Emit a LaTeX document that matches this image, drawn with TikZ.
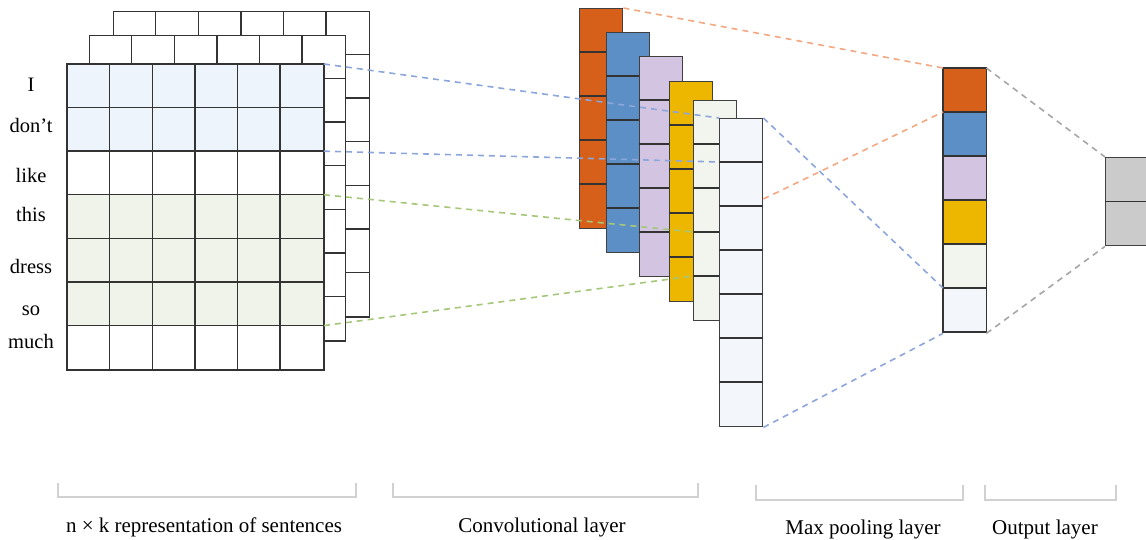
\documentclass[tikz,border=0pt]{standalone}
\usepackage{fontspec}
\setmainfont{Liberation Serif}
\usetikzlibrary{positioning}

\definecolor{convorange}{HTML}{D6601A}
\definecolor{convblue}{HTML}{5B8FC5}
\definecolor{convlav}{HTML}{D3C5E1}
\definecolor{convyellow}{HTML}{EDB700}
\definecolor{convgreen}{HTML}{F2F5EE}
\definecolor{convpale}{HTML}{F3F7FC}
\definecolor{rowblue}{HTML}{EEF4FC}
\definecolor{rowgreen}{HTML}{EFF3EA}
\definecolor{outgray}{HTML}{CBCBCB}
\definecolor{dashblue}{HTML}{8CA6DC}
\definecolor{dashgreen}{HTML}{A5C77A}
\definecolor{dashorange}{HTML}{F3A882}
\definecolor{dashgray}{HTML}{A6A6A6}

\tikzset{
  sheet/.style={draw=black!80, fill=white, line width=1.4pt, anchor=north west, inner sep=0pt,
    minimum width=255.6pt, minimum height=305.2pt},
  column/.style={draw=black!75, line width=1.4pt, anchor=north west, inner sep=0pt, minimum width=43pt},
  cellline/.style={draw=black!80, line width=1.4pt},
  link/.style={dash pattern=on 6pt off 5pt, line width=1.6pt},
  bracket/.style={draw=black!18, line width=1.4pt},
  wordtext/.style={font=\fontsize{20.5}{20.5}\selectfont, anchor=base},
  layertext/.style={font=\fontsize{21}{21}\selectfont, anchor=base}
}

\begin{document}
\begin{tikzpicture}[x=1pt,y=-1pt]
\useasboundingbox (0,0) rectangle (1146,540);

% n x k matrix, two sheets behind
\foreach \s/\x/\y in {back/113/11, mid/89/35} {
  \node[sheet] (\s) at (\x,\y) {};
  \foreach \i in {1,...,5}
    \draw[cellline] ([xshift=\i*42.6pt]\s.north west) -- ([xshift=\i*42.6pt]\s.south west);
  \foreach \j in {1,...,6}
    \draw[cellline] ([yshift=-\j*43.6pt]\s.north west) -- ([yshift=-\j*43.6pt]\s.north east);
}
\node[sheet] (front) at (67,64) {};
\fill[rowblue] (front.north west) rectangle ([yshift=-87.2pt]front.north east);
\fill[rowgreen] ([yshift=-130.8pt]front.north west) rectangle ([yshift=-261.6pt]front.north east);
\foreach \i in {1,...,5}
  \draw[cellline] ([xshift=\i*42.6pt]front.north west) -- ([xshift=\i*42.6pt]front.south west);
\foreach \j in {1,...,6}
  \draw[cellline] ([yshift=-\j*43.6pt]front.north west) -- ([yshift=-\j*43.6pt]front.north east);
\draw[cellline] (front.north west) rectangle (front.south east);

\foreach \w/\y [count=\n] in {I/92, don’t/133, like/183, this/222, dress/273, so/315, much/348}
  \node[wordtext] (w\n) at (31,\y) {\w};

% convolutional layer
\foreach \n/\x/\y/\c/\k in {c1/579/8/convorange/5, c2/606/32/convblue/5, c3/639/56/convlav/5,
    c4/669/81/convyellow/5, c5/693/100/convgreen/5, c6/719/118/convpale/7} {
  \node[column, fill=\c, minimum height=\k*44pt] (\n) at (\x,\y) {};
  \foreach \j in {2,...,\k}
    \draw[cellline] ([yshift=-\j*44pt+44pt]\n.north west) -- ([yshift=-\j*44pt+44pt]\n.north east);
}

% max pooling and output
\node[column, minimum width=42pt, minimum height=264pt] (pool) at (943,68) {};
\foreach \c [count=\j from 0] in {convorange, convblue, convlav, convyellow, convgreen, convpale}
  \draw[cellline, fill=\c] ([yshift=-\j*44pt]pool.north west) rectangle ([yshift=-\j*44pt-44pt]pool.north east);
\node[column, minimum width=42pt, minimum height=88pt, fill=outgray] (out) at (1105,157) {};
\draw[cellline] (out.west) -- (out.east);

% filters
\draw[link, dashblue] (front.north east) -- (c6.north west);
\draw[link, dashblue] ([yshift=-87.2pt]front.north east) -- ([yshift=-44pt]c6.north west);
\draw[link, dashgreen] ([yshift=-130.8pt]front.north east) -- ([yshift=-132pt]c5.north west);
\draw[link, dashgreen] ([yshift=-261.6pt]front.north east) -- ([yshift=-176pt]c5.north west);
\draw[link, dashorange] (c1.north east) -- (pool.north west);
\draw[link, dashorange] ([yshift=-81pt]c6.north east) -- ([yshift=-44pt]pool.north west);
\draw[link, dashblue] (c6.north east) -- ([yshift=-220pt]pool.north west);
\draw[link, dashblue] (c6.south east) -- (pool.south west);
\draw[link, dashgray] (pool.north east) -- (out.north west);
\draw[link, dashgray] (pool.south east) -- (out.south west);

% layer names
\draw[bracket] (58,483) |- (356,497) -- (356,483);
\draw[bracket] (393,483) |- (698,497) -- (698,483);
\draw[bracket] (756,485) |- (963,500) -- (963,485);
\draw[bracket] (985,485) |- (1116,500) -- (1116,485);
\node[layertext] (l1) at (204,532) {n × k representation of sentences};
\node[layertext] (l2) at (542,532) {Convolutional layer};
\node[layertext] (l3) at (863,534) {Max pooling layer};
\node[layertext] (l4) at (1045,534) {Output layer};
\end{tikzpicture}
\end{document}
